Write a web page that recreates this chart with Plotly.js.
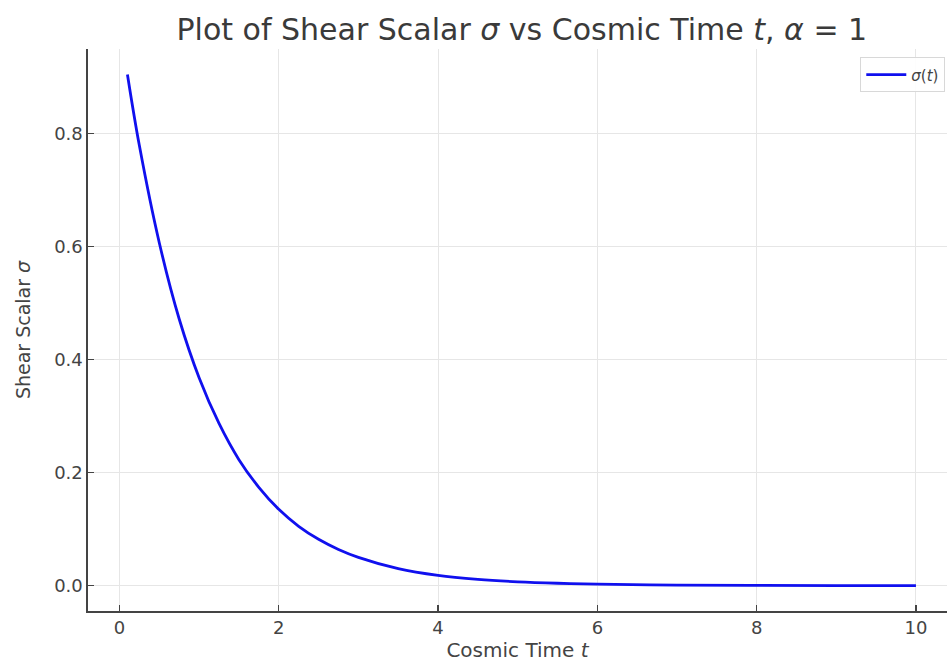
<!DOCTYPE html>
<html>
<head>
<meta charset="utf-8">
<script src="https://cdn.plot.ly/plotly-3.0.1.min.js"></script>
<style>html,body{margin:0;padding:0;background:#fff;overflow:hidden}</style>
</head>
<body>
<div id="chart" style="width:947px;height:662px"></div>
<script>
// Values
const timeValues = [0.1, 0.25, 0.5, 0.75, 1, 1.25, 1.5, 1.75, 2, 2.25, 2.5, 2.75, 3, 3.5, 4, 4.5, 5, 5.5, 6, 7, 8, 9, 10];
const shearValues = [0.905, 0.779, 0.607, 0.472, 0.368, 0.287, 0.223, 0.174, 0.135, 0.105, 0.082, 0.064, 0.050, 0.030, 0.018, 0.011, 0.0067, 0.0041, 0.0025, 0.0009, 0.0003, 0.0001, 0.00005];
const xTickValues = [0, 2, 4, 6, 8, 10];
const yTickValues = [0.0, 0.2, 0.4, 0.6, 0.8];
const yTickLabels = ["0.0", "0.2", "0.4", "0.6", "0.8"];

const font = "DejaVu Sans, sans-serif";
const trace = {
  x: timeValues,
  y: shearValues,
  type: "scatter",
  mode: "lines",
  name: "<i>σ</i>(<i>t</i>)",
  line: {color: "#1010ee", width: 2.8, shape: "spline", smoothing: 1}
};
const layout = {
  width: 947, height: 662,
  margin: {l: 88, r: 0, t: 49, b: 51},
  paper_bgcolor: "#fff", plot_bgcolor: "#fff",
  title: {text: "Plot of Shear Scalar <i>σ</i> vs Cosmic Time <i>t</i>, <i>α</i> = 1",
          font: {family: font, size: 30, color: "#3a3a3a"}, x: 0.551, xanchor: "center", y: 0.955, yanchor: "middle"},
  xaxis: {
    range: [-0.395, 10.39], tickvals: xTickValues, ticktext: xTickValues.map(String),
    showgrid: true, gridcolor: "#e6e6e6", gridwidth: 1, zeroline: false,
    showline: true, linecolor: "#444", linewidth: 1.6, mirror: false,
    ticks: "inside", ticklen: 6, tickcolor: "#444", tickwidth: 1.2,
    tickfont: {family: font, size: 18, color: "#444"},
    title: {text: "Cosmic Time <i>t</i>", font: {family: font, size: 20, color: "#444"}, standoff: 6}
  },
  yaxis: {
    range: [-0.045, 0.95], tickvals: yTickValues, ticktext: yTickLabels,
    showgrid: true, gridcolor: "#e6e6e6", gridwidth: 1, zeroline: false,
    showline: true, linecolor: "#444", linewidth: 1.6, mirror: false,
    ticks: "inside", ticklen: 6, tickcolor: "#444", tickwidth: 1.2,
    tickfont: {family: font, size: 18, color: "#444"},
    title: {text: "Shear Scalar <i>σ</i>", font: {family: font, size: 19, color: "#444"}, standoff: 18}
  },
  showlegend: true,
  legend: {x: 0.998, y: 0.985, xanchor: "right", yanchor: "top", itemwidth: 40,
           bgcolor: "rgba(255,255,255,0.9)", bordercolor: "#d8d8d8", borderwidth: 1,
           font: {family: font, size: 15, color: "#444"}}
};
Plotly.newPlot("chart", [trace], layout, {displayModeBar: false, staticPlot: true});
</script>
</body>
</html>
